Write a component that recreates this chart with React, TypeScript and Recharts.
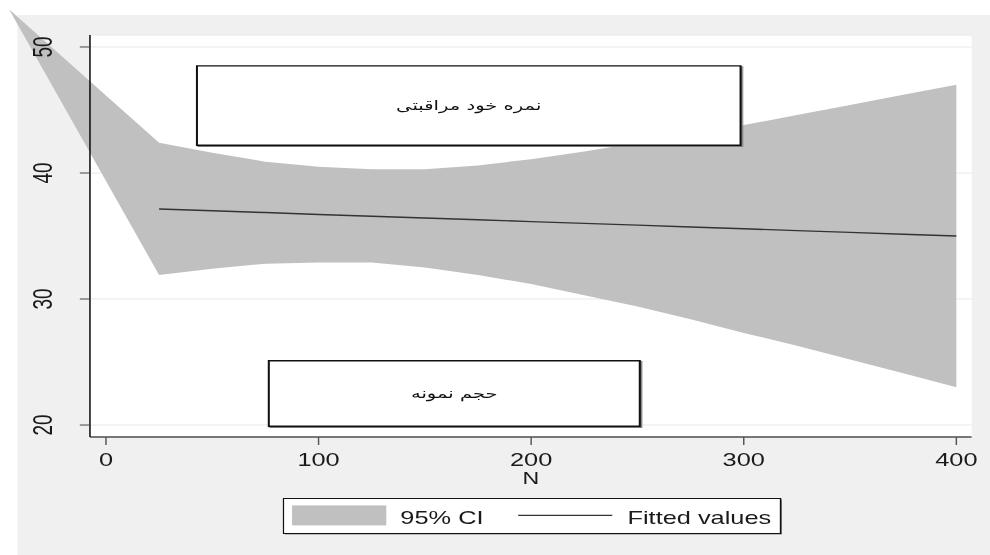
import React from "react";
import {
  ComposedChart,
  Area,
  Line,
  XAxis,
  YAxis,
  CartesianGrid,
  ReferenceArea,
  Legend,
} from "recharts";

// values
const nValues = [-45.6, 25, 50, 75, 100, 125, 150, 175, 200, 225, 250, 275, 300, 325, 350, 375, 400];
const ciLower = [53.0, 31.9, 32.4, 32.8, 32.9, 32.9, 32.5, 31.9, 31.2, 30.3, 29.4, 28.4, 27.3, 26.3, 25.2, 24.1, 23.0];
const ciUpper = [53.0, 42.4, 41.6, 40.9, 40.5, 40.3, 40.3, 40.6, 41.1, 41.7, 42.4, 43.1, 43.8, 44.6, 45.4, 46.2, 47.0];
const fitted = [null, 37.14, 37.0, 36.86, 36.71, 36.57, 36.43, 36.29, 36.14, 36.0, 35.86, 35.71, 35.57, 35.43, 35.29, 35.14, 35.0];

const xTicks = [0, 100, 200, 300, 400];
const yTicks = [20, 30, 40, 50];

const boxLabels = ["نمره خود مراقبتی", "حجم نمونه"];
const boxX = [[42.8, 298.5], [76.6, 251.1]];
const boxY = [[42.2, 48.5], [19.9, 25.1]];

const data = nValues.map((n, i) => ({
  n,
  ci: [ciLower[i], ciUpper[i]],
  fit: fitted[i],
}));

// the original graph is stretched horizontally, so draw narrow and scale
const W = 683;
const H = 555;
const STRETCH = 990 / W;
const FONT = "'Liberation Sans', Arial, sans-serif";

const XTick = (props: any) => {
  const { x, y, payload } = props;
  return (
    <text x={x} y={y} dy="0.71em" textAnchor="middle" fontSize={17.5} fontFamily={FONT} fill="#1a1a1a">
      {payload.value}
    </text>
  );
};

const YTick = (props: any) => {
  const { x, y, payload } = props;
  return (
    <text
      x={x}
      y={y}
      textAnchor="middle"
      transform={`rotate(-90, ${x}, ${y})`}
      fontSize={19}
      fontFamily={FONT}
      fill="#1a1a1a"
    >
      {payload.value}
    </text>
  );
};

const LegendBox = (props: any) => {
  const payload = props.payload || [];
  const ci = payload[0] || { value: "95% CI" };
  const fit = payload[1] || { value: "Fitted values" };
  return (
    <svg width={346} height={38} style={{ display: "block" }}>
      <rect x={1.5} y={1.5} width={343} height={35} fill="#8a8a8a" />
      <rect x={0.5} y={0.5} width={343} height={35} fill="#fff" stroke="#111" strokeWidth={1} />
      <rect x={6.5} y={7.4} width={65} height={20} fill="#c0c0c0" />
      <text x={81.2} y={26} fontSize={17.5} fontFamily={FONT} fill="#1a1a1a">
        {ci.value}
      </text>
      <line x1={162.5} x2={227.4} y1={17.4} y2={17.4} stroke="#333" strokeWidth={1.3} />
      <text x={237.9} y={26} fontSize={17.5} fontFamily={FONT} fill="#1a1a1a">
        {fit.value}
      </text>
    </svg>
  );
};

const css = `
.recharts-area, .recharts-area * { clip-path: none !important; }
.recharts-reference-area-rect { filter: drop-shadow(1px 1.5px 0 #7a7a7a); }
`;

export default function App() {
  return (
    <div
      style={{
        position: "absolute",
        left: 0,
        top: 0,
        width: W,
        height: H,
        transform: `scaleX(${STRETCH})`,
        transformOrigin: "0 0",
        overflow: "hidden",
      }}
    >
      {/* the band runs past the plot frame in the original, so no clipping */}
      <style>{css}</style>
      <div
        style={{
          position: "absolute",
          left: 12.4,
          top: 15,
          right: 0,
          bottom: 0,
          background: "#f0f0f0",
        }}
      />
      <div style={{ position: "absolute", left: 0, top: 0 }}>
        <ComposedChart
          width={W}
          height={H}
          data={data}
          margin={{ top: 35, right: 12.66, bottom: 88, left: 0 }}
        >
          <CartesianGrid vertical={false} stroke="#e8e8e8" fill="#ffffff" />
          <XAxis
            type="number"
            dataKey="n"
            domain={[-7.52, 407.2]}
            allowDataOverflow
            ticks={xTicks}
            interval={0}
            height={30}
            tickSize={8}
            tickMargin={9}
            tick={<XTick />}
            tickLine={{ stroke: "#555" }}
            axisLine={{ stroke: "#000" }}
            label={{ value: "N", position: "bottom", offset: 6, fontSize: 16, fontFamily: FONT, fill: "#1a1a1a" }}
          />
          <YAxis
            type="number"
            domain={[19.05, 50.95]}
            allowDataOverflow
            ticks={yTicks}
            interval={0}
            width={62.07}
            tickSize={7}
            tickMargin={19}
            tick={<YTick />}
            tickLine={{ stroke: "#444" }}
            axisLine={{ stroke: "#000" }}
          />
          <Area
            type="linear"
            dataKey="ci"
            name="95% CI"
            stroke="none"
            fill="#c0c0c0"
            fillOpacity={1}
            dot={false}
            activeDot={false}
            isAnimationActive={false}
          />
          <Line
            type="linear"
            dataKey="fit"
            name="Fitted values"
            stroke="#333"
            strokeWidth={1.4}
            dot={false}
            activeDot={false}
            isAnimationActive={false}
          />
          {boxLabels.map((t, i) => (
            <ReferenceArea
              key={t}
              x1={boxX[i][0]}
              x2={boxX[i][1]}
              y1={boxY[i][0]}
              y2={boxY[i][1]}
              fill="#ffffff"
              fillOpacity={1}
              stroke="#111"
              strokeWidth={1.4}
              label={{ value: t, position: "center", fontSize: 13.5, fontFamily: "'DejaVu Sans', sans-serif", fill: "#111" }}
            />
          ))}
          <Legend
            layout="horizontal"
            verticalAlign="middle"
            align="center"
            content={<LegendBox />}
            wrapperStyle={{ left: 194.7, top: 498.3, width: 346, height: 38 }}
          />
        </ComposedChart>
      </div>
    </div>
  );
}
